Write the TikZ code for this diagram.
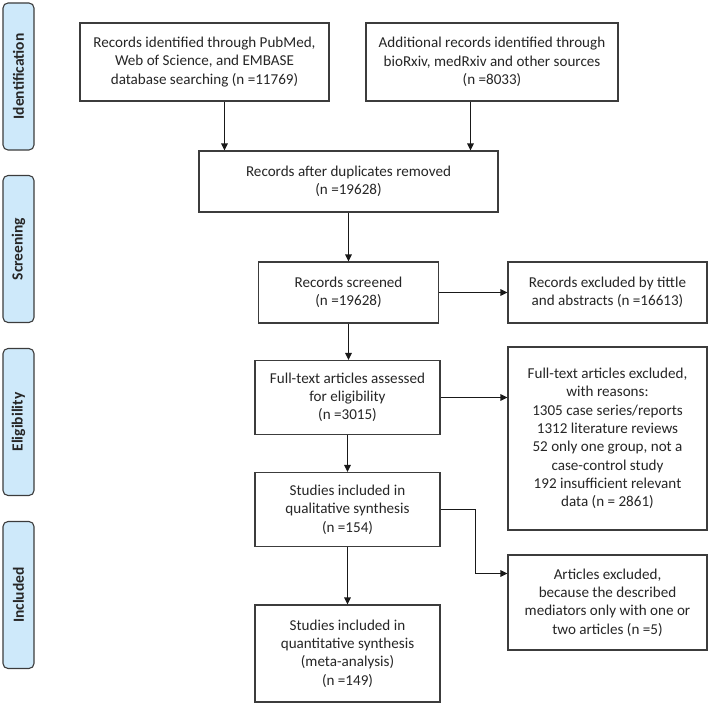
\documentclass[tikz,border=0pt]{standalone}
\usepackage{fontspec}
\setmainfont{Carlito}
\usetikzlibrary{arrows.meta,positioning}
\definecolor{fasefondo}{RGB}{206,233,250}
\definecolor{borde}{RGB}{60,60,60}
\tikzset{
	caja/.style={rectangle, draw=borde, line width=1.1pt, fill=white, 
		text=black!85, font=\fontsize{15.1}{18.3}\selectfont, 
		align=center, inner sep=2pt},
	fase/.style={rectangle, rounded corners=5pt, draw=borde, line width=1.1pt, 
		fill=fasefondo, text=black!85, font=\bfseries\fontsize{15.5}{18}\selectfont, 
		minimum width=147pt, minimum height=31pt, rotate=90},
	flecha/.style={-{Triangle[length=7pt,width=6.5pt]}, line width=1.2pt, draw=black!90}
}

\begin{document}
\begin{tikzpicture}[x=1pt, y=-1pt]
			\useasboundingbox (0,0) rectangle (709,706);
			
			\node[fase] (ident) at (18.5,76.5) {Identification};
			\node[fase] (screen) at (18.5,249) {Screening};
			\node[fase] (elig) at (18.5,422) {Eligibility};
			\node[fase] (incl) at (18.5,595) {Included};
			
			\node[caja, minimum width=249pt, minimum height=78pt] (pubmed) at (204.5,62) {Records identified through PubMed,\\Web of Science, and EMBASE\\database searching (n =11769)};
			\node[caja, minimum width=252pt, minimum height=78pt] (otras) at (492,62) {Additional records identified through\\bioRxiv, medRxiv and other sources\\(n =8033)};
			\node[caja, minimum width=299pt, minimum height=61pt] (dupl) at (348.5,181.5) {Records after duplicates removed\\(n =19628)};
			\node[caja, minimum width=180pt, minimum height=61pt] (cribado) at (348.5,292.5) {Records screened\\(n =19628)};
			\node[caja, minimum width=199pt, minimum height=61pt] (exclTit) at (607.5,292.5) {Records excluded by tittle\\and abstracts (n =16613)};
			\node[caja, minimum width=185pt, minimum height=74pt] (textoComp) at (347.5,397.5) {Full-text articles assessed\\for eligibility\\(n =3015)};
			\node[caja, minimum width=199pt, minimum height=183pt] (exclTexto) at (607.5,438.5) {Full-text articles excluded,\\with reasons:\\1305 case series/reports\\1312 literature reviews\\52 only one group, not a\\case-control study\\192 insufficient relevant\\data (n = 2861)};
			\node[caja, minimum width=185pt, minimum height=74pt] (cualit) at (347.5,509.5) {Studies included in\\qualitative synthesis\\(n =154)};
			\node[caja, minimum width=185pt, minimum height=97pt] (cuantit) at (347.5,653.5) {Studies included in\\quantitative synthesis\\(meta-analysis)\\(n =149)};
			\node[caja, minimum width=199pt, minimum height=95pt] (exclArt) at (607.5,602.5) {Articles excluded,\\because the described\\mediators only with one or\\two articles (n =5)};
			
			\coordinate (codo) at (475.5,573.5);
			
			\draw[flecha] ([xshift=20pt]pubmed.south) -- ([xshift=20pt]pubmed.south |- dupl.north);
			\draw[flecha] ([xshift=-21.5pt]otras.south) -- ([xshift=-21.5pt]otras.south |- dupl.north);
			\draw[flecha] (dupl.south) -- (cribado.north);
			\draw[flecha] (cribado.east) -- (exclTit.west);
			\draw[flecha] (cribado.south) -- (cribado.south |- textoComp.north);
			\draw[flecha] (textoComp.east) -- (textoComp.east -| exclTexto.west);
			\draw[flecha] (textoComp.south) -- (cualit.north);
			\draw[flecha] (cualit.south) -- (cuantit.north);
			\draw[flecha] (cualit.east) -| (codo) -- (codo -| exclArt.west);
		\end{tikzpicture}
\end{document}
